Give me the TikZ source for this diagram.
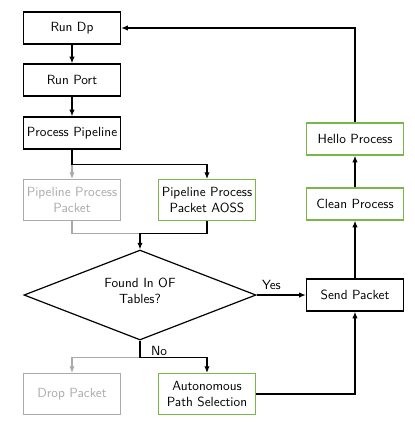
\documentclass[tikz,border=0pt]{standalone}
\usepackage{tikz}
\usetikzlibrary{arrows.meta, positioning, shapes.geometric}
\usepackage{xcolor}

\definecolor{aossgreen}{RGB}{122,182,72}
\definecolor{offgray}{RGB}{170,170,170}

\begin{document}
\begin{tikzpicture}[
    font=\sffamily,
    every node/.style={align=center},
    stepbox/.style={rectangle, draw, line width=0.9pt, minimum width=2.57cm, minimum height=0.85cm, inner sep=1pt},
    twobox/.style={stepbox, minimum height=1.08cm},
    newbox/.style={draw=aossgreen},
    offbox/.style={draw=offgray, text=offgray},
    decision/.style={diamond, draw, line width=0.9pt, aspect=2.58, minimum width=6.14cm, minimum height=2.38cm, inner sep=0pt},
    flow/.style={line width=0.9pt, -{Latex[length=5pt, width=4pt]}},
    offflow/.style={flow, offgray},
    >=stealth
]
\useasboundingbox (0,0) rectangle (10.98,-11.51);

% Nodes
\node (rundp) [stepbox] at (1.905,-0.741) {Run Dp};
\node (runport) [stepbox, below of=rundp, node distance=1.376cm] {Run Port};
\node (pipeline) [stepbox, below of=runport, node distance=1.402cm] {Process Pipeline};
\node (ppp) [twobox, offbox, below of=pipeline, node distance=1.773cm] {Pipeline Process\\Packet};
\node (aoss) [twobox, newbox, right of=ppp, node distance=3.572cm] {Pipeline Process\\Packet AOSS};
\node (found) [decision, label={[yshift=3pt]center:Found In OF\\Tables?}] at (3.704,-7.806) {};
\node (send) [stepbox, right of=found, node distance=5.689cm] {Send Packet};
\node (drop) [twobox, offbox, below of=ppp, node distance=5.133cm] {Drop Packet};
\node (aps) [twobox, newbox, right of=drop, node distance=3.572cm] {Autonomous\\Path Selection};
\node (clean) [stepbox, newbox, above of=send, node distance=2.408cm] {Clean Process};
\node (hello) [stepbox, newbox, above of=clean, node distance=1.72cm] {Hello Process};

% Junctions
\coordinate (split) at ([yshift=-0.4cm]pipeline.south);
\coordinate (merge) at ([yshift=0.42cm]found.north);
\coordinate (nosplit) at ([yshift=-0.45cm]found.south);

% Arrows
\draw [flow] (rundp) -- (runport);
\draw [flow] (runport) -- (pipeline);
\draw [offflow] (split) -- (ppp);
\draw [flow] (pipeline.south) -- (split) -| (aoss.north);
\draw [offgray, line width=0.9pt] (ppp.south) |- (merge);
\draw [flow] (aoss.south) |- (merge) -- (found.north);
\draw [flow] (found.east) -- node[above, pos=0.3] {Yes} (send.west);
\draw [offflow] (nosplit) -| (drop.north);
\draw [flow] (found.south) -- (nosplit) -| (aps.north);
\node (nolabel) [anchor=south west, inner sep=1pt] at ([xshift=0.25cm]nosplit) {No};
\draw [flow] (aps.east) -| (send.south);
\draw [flow] (send) -- (clean);
\draw [flow] (clean) -- (hello);
\draw [flow] (hello.north) |- (rundp.east);

\end{tikzpicture}
\end{document}
